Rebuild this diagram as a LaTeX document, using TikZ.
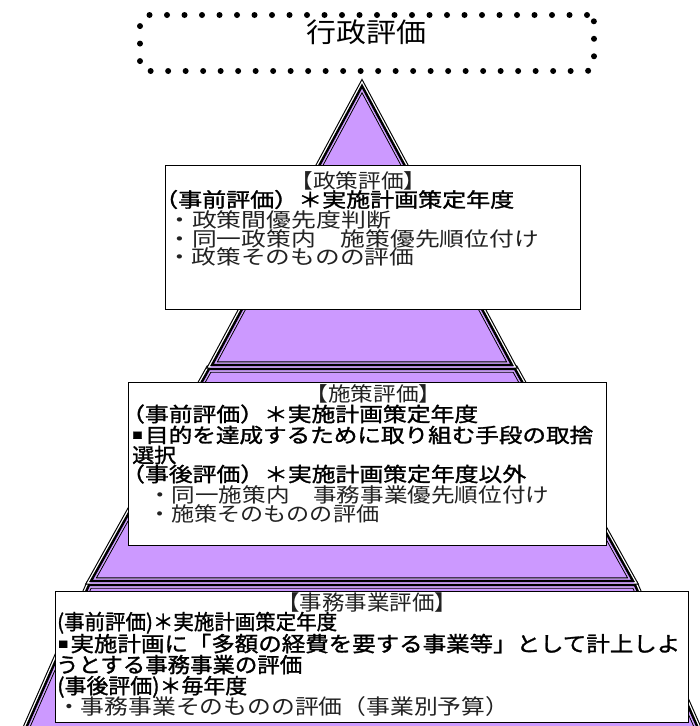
\documentclass[tikz,border=0pt]{standalone}
\usepackage{fontspec}
\usepackage{graphicx}
\setmainfont{Noto Sans CJK JP}
\newfontfamily\jpb{Noto Sans CJK JP}[FakeBold=1.3]
\definecolor{purp}{HTML}{CC99FF}
\definecolor{txtgray}{HTML}{222222}
\newcommand\fw[2]{\resizebox{#1pt}{\height}{#2}}
\newcommand\sqbul{\raisebox{4pt}{\fontsize{9}{9}\selectfont ■}\hspace{2pt}}
\newcommand\pyrpart[1]{%
  \draw[black,line width=7.2pt,line join=miter] #1;
  \draw[white,line width=5pt,line join=miter] #1;
  \begin{scope}\clip[use path=\pyrout]; \draw[purp,line width=5pt,line join=miter] #1;\end{scope}
  \draw[black,line width=2.4pt,line join=miter] #1;
}
\tikzset{
  txt/.style={anchor=west, inner sep=0pt, text height=15.5pt, text depth=0.3pt, text=txtgray, font=\fontsize{20}{20}\selectfont},
  btxt/.style={txt, text=black, font=\fontsize{20}{20}\selectfont\jpb},
  ctxt/.style={txt, anchor=center},
  box/.style={draw=black, line width=1.2pt, fill=white, anchor=north west, inner sep=0pt},
  dotbox/.style={draw=black, line width=6pt, dash pattern=on 0pt off 17.5pt, line cap=round, rounded corners=7pt, inner sep=0pt},
}
\begin{document}
\begin{tikzpicture}[x=1pt,y=-1pt]
\useasboundingbox (0,0) rectangle (700,726);
\clip (0,0) rectangle (700,726);
% pyramid
\path[save path=\pyrout] (362,86) -- (512,365) -- (515,369) -- (633,581) -- (635,585) -- (712,760) -- (12,760) -- (89,585) -- (91,581) -- (209,369) -- (212,365) -- cycle;
\fill[purp, use path=\pyrout];
\pyrpart{(89,585) -- (635,585) -- (712,760) -- (12,760) -- cycle}
\pyrpart{(209,369) -- (515,369) -- (633,581) -- (91,581) -- cycle}
\pyrpart{(362,86) -- (512,365) -- (212,365) -- cycle}
% title
\node[dotbox, minimum width=454pt, minimum height=56pt] (tbox) at (367,43) {};
\node[inner sep=0pt, font=\fontsize{27}{27}\selectfont] (ttl) at (366.5,32.5) {\fw{120}{行政評価}};
% box 1
\node[box, minimum width=415pt, minimum height=144pt] (p1) at (165,165) {};
\node[ctxt] (a0) at (358.5,181) {\fw{136}{【政策評価】}};
\node[btxt] (a1) at (154,199.5) {\fw{360}{（事前評価）＊実施計画策定年度}};
\node[txt] (a2) at (167,220) {\fw{224}{・政策間優先度判断}};
\node[txt] (a3) at (167,238.5) {\fw{372}{・同一政策内　施策優先順位付け}};
\node[txt] (a4) at (167,257) {\fw{247}{・政策そのものの評価}};
% box 2
\node[box, minimum width=478pt, minimum height=163pt] (p2) at (128,382) {};
\node[ctxt] (b0) at (373.5,394) {\fw{136}{【施策評価】}};
\node[btxt] (b1) at (121,414) {\fw{357}{（事前評価）＊実施計画策定年度}};
\node[btxt] (b2) at (132,435) {\fw{461}{\sqbul 目的を達成するために取り組む手段の取捨}};
\node[btxt] (b3) at (132,455) {\fw{44}{選択}};
\node[btxt] (b4) at (121,474) {\fw{405}{（事後評価）＊実施計画策定年度以外}};
\node[txt] (b5) at (148,495) {\fw{401}{・同一施策内　事務事業優先順位付け}};
\node[txt] (b6) at (148,514) {\fw{231}{・施策そのものの評価}};
% box 3
\node[box, minimum width=633pt, minimum height=131pt] (p3) at (55,591) {};
\node[ctxt, font=\fontsize{21}{21}\selectfont] (c0) at (367,603) {\fw{180}{【事務事業評価】}};
\node[btxt, font=\fontsize{21}{21}\selectfont\jpb] (c1) at (57,622) {\fw{280}{(事前評価)＊実施計画策定年度}};
\node[btxt, font=\fontsize{21}{21}\selectfont\jpb] (c2) at (58,644) {\fw{622}{\sqbul 実施計画に「多額の経費を要する事業等」として計上しよ}};
\node[btxt, font=\fontsize{21}{21}\selectfont\jpb] (c3) at (56,665) {\fw{246}{うとする事務事業の評価}};
\node[btxt, font=\fontsize{21}{21}\selectfont\jpb] (c4) at (57,686) {\fw{190}{(事後評価)＊毎年度}};
\node[txt, font=\fontsize{21}{21}\selectfont] (c5) at (57,707) {\fw{452}{・事務事業そのものの評価（事業別予算）}};
\end{tikzpicture}
\end{document}
